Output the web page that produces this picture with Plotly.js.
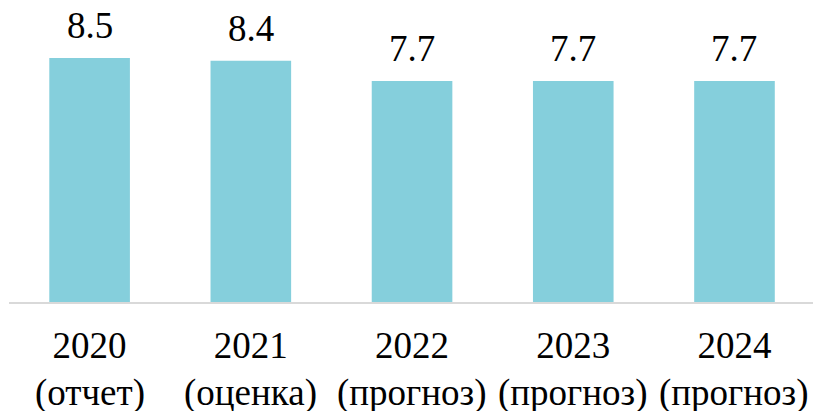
<!DOCTYPE html>
<html>
<head>
<meta charset="utf-8">
<script src="https://cdn.plot.ly/plotly-3.0.1.min.js"></script>
<style>html,body{margin:0;padding:0;background:#fff;overflow:hidden}#chart{width:813px;height:411px}</style>
</head>
<body>
<div id="chart"></div>
<script>
const categories = ["2020", "2021", "2022", "2023", "2024"];
const subLabels = ["(отчет)", "(оценка)", "(прогноз)", "(прогноз)", "(прогноз)"];
const values = [8.5, 8.4, 7.7, 7.7, 7.7];
const valueLabels = ["8.5", "8.4", "7.7", "7.7", "7.7"];

const FONT = "'Liberation Serif', 'Times New Roman', serif";

const trace = {
  type: "bar",
  x: categories,
  y: values,
  width: 0.5,
  marker: {color: "#85CFDC"},
  hoverinfo: "none"
};

const annotations = [];
categories.forEach((c, i) => {
  annotations.push({
    x: i, y: values[i], xref: "x", yref: "y",
    text: valueLabels[i], showarrow: false,
    yanchor: "bottom", yshift: 10,
    font: {family: FONT, size: 37, color: "#000000"}
  });
  annotations.push({
    x: i, y: 0, xref: "x", yref: "paper",
    text: subLabels[i], showarrow: false,
    yanchor: "top", yshift: -68,
    font: {family: FONT, size: 37, color: "#000000"}
  });
});

const layout = {
  width: 813, height: 411,
  margin: {l: 9, r: 0, t: 12, b: 109},
  paper_bgcolor: "#fff", plot_bgcolor: "#fff",
  font: {family: FONT},
  showlegend: false,
  xaxis: {
    type: "category",
    range: [-0.5, 4.487],
    tickvals: categories,
    ticktext: categories,
    showgrid: false, zeroline: false,
    showline: true, linecolor: "#D9D9D9", linewidth: 2,
    ticks: "", ticklabelstandoff: 10,
    tickfont: {family: FONT, size: 37, color: "#000"}
  },
  yaxis: {
    range: [0, 10.1],
    showgrid: false, zeroline: false, showline: false,
    showticklabels: false, ticks: ""
  },
  annotations: annotations
};

Plotly.newPlot("chart", [trace], layout, {displayModeBar: false, staticPlot: true});
</script>
</body>
</html>
